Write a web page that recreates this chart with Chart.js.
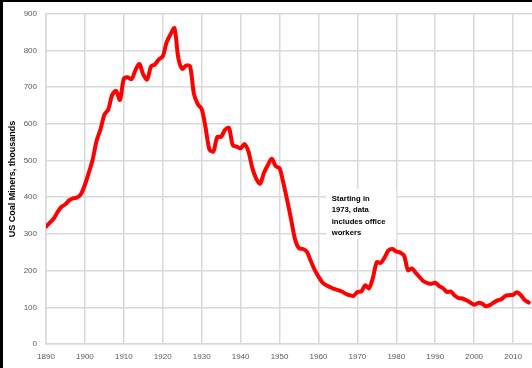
<!DOCTYPE html>
<html>
<head>
<meta charset="utf-8">
<script src="https://cdn.jsdelivr.net/npm/chart.js@4/dist/chart.umd.min.js"></script>
<style>
  html, body { margin: 0; padding: 0; background: #fff; }
  #wrap { position: relative; width: 532px; height: 368px; overflow: hidden; }
  #edgeTop { position: absolute; left: 0; top: 0; width: 532px; height: 2px; background: #000; }
  #edgeLeft { position: absolute; left: 0; top: 0; width: 3px; height: 368px; background: #000; }
</style>
</head>
<body>
<div id="wrap">
  <canvas id="chart" width="532" height="368"></canvas>
  <div id="edgeTop"></div>
  <div id="edgeLeft"></div>
</div>
<script>
// years shown on the x axis
const years = [
  1890, 1891, 1892, 1893, 1894, 1895, 1896, 1897, 1898, 1899,
  1900, 1901, 1902, 1903, 1904, 1905, 1906, 1907, 1908, 1909,
  1910, 1911, 1912, 1913, 1914, 1915, 1916, 1917, 1918, 1919,
  1920, 1921, 1922, 1923, 1924, 1925, 1926, 1927, 1928, 1929,
  1930, 1931, 1932, 1933, 1934, 1935, 1936, 1937, 1938, 1939,
  1940, 1941, 1942, 1943, 1944, 1945, 1946, 1947, 1948, 1949,
  1950, 1951, 1952, 1953, 1954, 1955, 1956, 1957, 1958, 1959,
  1960, 1961, 1962, 1963, 1964, 1965, 1966, 1967, 1968, 1969,
  1970, 1971, 1972, 1973, 1974, 1975, 1976, 1977, 1978, 1979,
  1980, 1981, 1982, 1983, 1984, 1985, 1986, 1987, 1988, 1989,
  1990, 1991, 1992, 1993, 1994, 1995, 1996, 1997, 1998, 1999,
  2000, 2001, 2002, 2003, 2004, 2005, 2006, 2007, 2008, 2009,
  2010, 2011, 2012, 2013, 2014,
];

// US coal miners, thousands
const miners = [
  320, 331, 342, 360, 374, 381, 392, 397, 399, 409,
  434, 467, 503, 554, 585, 625, 639, 679, 690, 665,
  723, 727, 722, 747, 763, 734, 721, 757, 762, 776,
  784, 823, 844, 861, 779, 750, 759, 757, 682, 654,
  640, 590, 530, 525, 564, 565, 584, 589, 542, 538,
  533, 545, 525, 480, 451, 437, 467, 488, 505, 485,
  479, 438, 390, 338, 285, 261, 259, 252, 227, 203,
  184, 168, 160, 155, 150, 147, 143, 137, 133, 131,
  142, 143, 160, 152, 181, 223, 221, 236, 255, 259,
  252, 249, 241, 201, 206, 194, 182, 171, 166, 164,
  167, 158, 152, 142, 143, 132, 125, 124, 119, 113,
  107, 112, 110, 103, 106, 113, 119, 122, 131, 133,
  134, 141, 133, 120, 113,
];

const yTicks = [0, 100, 200, 300, 400, 500, 600, 700, 800, 900];
const xTicks = [1890, 1900, 1910, 1920, 1930, 1940, 1950, 1960, 1970, 1980, 1990, 2000, 2010];

const noteLines = ["Starting in", "1973, data", "includes office", "workers"];
// where the note sits, in data units
const noteBox = { x0: 1962, x1: 1980, top: 422, bottom: 286 };
const noteText = { x: 1963.4, y: 396 };

const gridColor = "#d9d9d9";
const labelColor = "#595959";
const fontFamily = "'Liberation Sans', Arial, sans-serif";

const notePlugin = {
  id: "note",
  beforeDatasetsDraw(chart) {
    const { ctx, scales } = chart;
    const x = scales.x, y = scales.y;
    ctx.save();
    ctx.fillStyle = "#ffffff";
    const bx = x.getPixelForValue(noteBox.x0);
    const by = y.getPixelForValue(noteBox.top);
    ctx.fillRect(bx, by, x.getPixelForValue(noteBox.x1) - bx, y.getPixelForValue(noteBox.bottom) - by);
    ctx.fillStyle = "#000000";
    ctx.font = "bold 7.7px " + fontFamily;
    ctx.textBaseline = "middle";
    ctx.textAlign = "left";
    const tx = x.getPixelForValue(noteText.x);
    const ty = y.getPixelForValue(noteText.y);
    noteLines.forEach((line, i) => ctx.fillText(line, tx, ty + i * 11.5));
    ctx.restore();
  },
};

const ctx = document.getElementById("chart").getContext("2d");
const chart = new Chart(ctx, {
  type: "line",
  data: {
    datasets: [
      {
        label: "US Coal Miners",
        data: years.map((yr, i) => ({ x: yr, y: miners[i] })),
        borderColor: "#ff0000",
        borderWidth: 4,
        pointRadius: 0,
        tension: 0.3,
        fill: false,
        borderJoinStyle: "round",
        borderCapStyle: "round",
      },
    ],
  },
  options: {
    responsive: false,
    animation: false,
    layout: { padding: { top: 7, right: 0, left: 0, bottom: 0 } },
    plugins: {
      legend: { display: false },
      tooltip: { enabled: false },
    },
    scales: {
      x: {
        type: "linear",
        min: 1890,
        max: 2014.86,
        afterBuildTicks: (axis) => {
          axis.ticks = xTicks.map((v) => ({ value: v }));
        },
        afterFit: (axis) => {
          axis.height = 24;
        },
        ticks: {
          color: labelColor,
          font: { family: fontFamily, size: 8 },
          padding: 8,
          maxRotation: 0,
          autoSkip: false,
          callback: (v) => String(v),
        },
        grid: { color: gridColor, lineWidth: 1.5, drawTicks: false },
        border: { color: gridColor, width: 1.5 },
      },
      y: {
        min: 0,
        max: 900,
        afterBuildTicks: (axis) => {
          axis.ticks = yTicks.map((v) => ({ value: v }));
        },
        afterFit: (axis) => {
          axis.width = 46;
        },
        ticks: {
          color: labelColor,
          font: { family: fontFamily, size: 8 },
          padding: 9,
          callback: (v) => String(v),
        },
        grid: { color: gridColor, lineWidth: 1.5, drawTicks: false },
        border: { color: gridColor, width: 1.5 },
        title: {
          display: true,
          text: "US Coal Miners, thousands",
          color: "#000000",
          font: { family: fontFamily, size: 9, weight: "bold" },
          padding: { top: 7, bottom: 0 },
        },
      },
    },
  },
  plugins: [notePlugin],
});
</script>
</body>
</html>
